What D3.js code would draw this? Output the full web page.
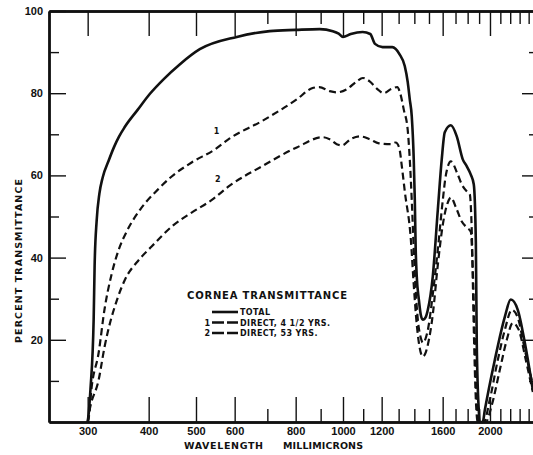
<!DOCTYPE html>
<html lang="en">
<head>
    <meta charset="UTF-8">
    <title>Cornea Transmittance</title>
    <script src="https://cdn.jsdelivr.net/npm/d3@7"></script>
    <style>
        body{
            margin: 0;
            background: #fff;
        }
        svg{
            display: block;
            font-family: "DejaVu Sans", sans-serif;
        }
        .frame path.domain{
            stroke: #111;
            stroke-width: 2.4px;
        }
        .frame line{
            stroke: #111;
            stroke-width: 1.4px;
        }
        .frame text{
            font-size: 11px;
            font-weight: bold;
            fill: #111;
        }
        .total{
            stroke: #111;
            stroke-width: 2.6px;
            fill: none;
        }
        .direct{
            stroke: #111;
            stroke-width: 2.2px;
            stroke-dasharray: 7,4;
            fill: none;
        }
        .lbl{
            font-size: 9.5px;
            font-weight: bold;
            fill: #111;
        }
    </style>
</head>
<body>
<script>
    // wavelength (millimicrons) and percent transmittance
    const totalWl = [300, 301.4, 304, 308.6, 310, 313, 317, 322, 331, 340, 348, 357, 380, 402, 430, 463, 509, 606, 708, 800, 896, 953, 980, 1000, 1037, 1097, 1137, 1163, 1205, 1262, 1305, 1338, 1357, 1370, 1383, 1396, 1403, 1409, 1416, 1430, 1443, 1457, 1478, 1492, 1527, 1564, 1593, 1616, 1663, 1710, 1759, 1793, 1827, 1853, 1871, 1879, 1897, 1906, 1933, 1952, 2046, 2145, 2206, 2280, 2357, 2448];
    const totalT  = [0, 2, 8, 25, 38, 49, 55.5, 59.5, 63.5, 67, 69.5, 71.7, 76, 79.8, 83.5, 87, 90.7, 93.7, 95.1, 95.4, 95.6, 95.1, 94.5, 93.7, 94.4, 94.9, 94.4, 92, 91.2, 91.2, 89.5, 86.6, 82.7, 78.5, 74.4, 63.9, 54, 42, 35.4, 29.8, 26.1, 24.9, 25.6, 27.3, 35.4, 51.7, 63.9, 70.5, 72.2, 69.5, 63.9, 62.2, 60.2, 57.8, 43.7, 19.3, 2.9, 0, 0, 2.9, 15.1, 25.6, 29.8, 27.3, 19.3, 7.8];

    const direct1Wl = [300, 301, 305.7, 315.9, 324.9, 335.9, 346.3, 362.2, 384.3, 418, 446.5, 490.7, 546.2, 586, 682, 804, 864, 894, 939, 971, 1019, 1068, 1098, 1134, 1176, 1212, 1255, 1292, 1308, 1332, 1357, 1370, 1383, 1396, 1409, 1423, 1443, 1457, 1478, 1492, 1527, 1564, 1601, 1624, 1663, 1718, 1751, 1793, 1818, 1835, 1853, 1871, 1888, 1943, 1998, 2075, 2145, 2217, 2280, 2357, 2448];
    const direct1T  = [0, 0.5, 8.5, 16.8, 27.5, 36, 41.5, 46.8, 51.7, 56.6, 59.8, 63.2, 66.3, 69, 73.2, 78.5, 81.2, 81.5, 80.5, 80.2, 81, 82.9, 83.7, 82.9, 81, 80, 81, 81.5, 80.2, 76, 71, 64, 54, 42, 32, 25, 20.5, 19.3, 20.5, 22.4, 31, 42, 54, 60, 63.4, 60.2, 57.8, 56.1, 55.4, 46.8, 22.4, 5.4, 0, 0, 5.4, 15.1, 22.4, 27.3, 25.4, 17.6, 9];

    const direct2Wl = [300, 302.8, 315.9, 324.9, 346.3, 357.6, 382.3, 405.6, 446.5, 490.7, 539.7, 586, 682, 804, 909, 939, 971, 996, 1036, 1085, 1134, 1185, 1255, 1282, 1303, 1322, 1339, 1377, 1396, 1416, 1436, 1457, 1478, 1492, 1527, 1564, 1601, 1639, 1663, 1710, 1751, 1793, 1827, 1844, 1862, 1879, 1897, 1961, 2017, 2095, 2165, 2227, 2291, 2368, 2448];
    const direct2T  = [0, 2.9, 10.2, 18.3, 30.5, 34.6, 39.5, 42.7, 47.6, 51, 54.1, 57.5, 62.2, 66.8, 69.3, 68.8, 67.6, 67.3, 68.8, 69.5, 68.8, 67.8, 67.6, 68, 66.8, 61.5, 55.9, 44.4, 33.4, 23.7, 18, 15.9, 17, 18.8, 26.1, 38.3, 48, 53.4, 54.6, 51.7, 48.8, 47.3, 46.3, 37, 20, 5.4, 0, 0, 4.1, 12.7, 20, 24.1, 22.4, 15.1, 7.3];

    // tick values
    const xMajor = [300, 400, 500, 600, 800, 1000, 1200, 1600, 2000];
    const xMinor = [700, 900, 1100, 1300, 1400, 1500, 1700, 1800, 1900, 2100, 2200, 2300, 2400];
    const yMajor = [20, 40, 60, 80, 100];
    const yMinor = [10, 30, 50, 70, 90];

    // curve number labels: [wavelength, percent, text]
    const curveLabels = [[551, 70, "1"], [554, 58.5, "2"]];

    const width = 533, height = 455;
    const margins = {top: 11, bottom: 33, left: 49, right: -6};

    let svg = d3.select("body").append("svg")
        .attr("width", width)
        .attr("height", height);

    let xScale = d3.scaleLog()
        .domain([250, 2520])
        .range([margins.left, width - margins.right]);
    let yScale = d3.scaleLinear()
        .domain([0, 100])
        .range([height - margins.bottom, margins.top]);

    // frame + ticks
    const fmt = d3.format("d");
    svg.append("g").attr("class", "frame")
        .attr("transform", `translate(0,${height - margins.bottom})`)
        .call(d3.axisBottom(xScale).tickValues(xMajor).tickFormat(fmt).tickSize(-25).tickSizeOuter(0).tickPadding(5));
    svg.append("g").attr("class", "frame")
        .attr("transform", `translate(0,${height - margins.bottom})`)
        .call(d3.axisBottom(xScale).tickValues(xMinor).tickFormat("").tickSize(-13).tickSizeOuter(0));
    svg.append("g").attr("class", "frame")
        .attr("transform", `translate(0,${margins.top})`)
        .call(d3.axisTop(xScale).tickValues(xMajor).tickFormat("").tickSize(-25).tickSizeOuter(0));
    svg.append("g").attr("class", "frame")
        .attr("transform", `translate(0,${margins.top})`)
        .call(d3.axisTop(xScale).tickValues(xMinor).tickFormat("").tickSize(-13).tickSizeOuter(0));

    svg.append("g").attr("class", "frame")
        .attr("transform", `translate(${margins.left},0)`)
        .call(d3.axisLeft(yScale).tickValues(yMajor).tickFormat(fmt).tickSize(-17).tickSizeOuter(0).tickPadding(6));
    svg.append("g").attr("class", "frame")
        .attr("transform", `translate(${margins.left},0)`)
        .call(d3.axisLeft(yScale).tickValues(yMinor).tickFormat("").tickSize(-10).tickSizeOuter(0));
    svg.append("g").attr("class", "frame")
        .attr("transform", `translate(${width - margins.right},0)`)
        .call(d3.axisRight(yScale).tickValues(yMajor).tickFormat("").tickSize(-17).tickSizeOuter(0));
    svg.append("g").attr("class", "frame")
        .attr("transform", `translate(${width - margins.right},0)`)
        .call(d3.axisRight(yScale).tickValues(yMinor).tickFormat("").tickSize(-10).tickSizeOuter(0));

    // curves
    let line = d3.line()
        .x(d => xScale(d[0]))
        .y(d => yScale(d[1]))
        .curve(d3.curveMonotoneX);

    svg.append("path").datum(d3.zip(direct2Wl, direct2T)).attr("class", "direct").attr("d", line);
    svg.append("path").datum(d3.zip(direct1Wl, direct1T)).attr("class", "direct").attr("d", line);
    svg.append("path").datum(d3.zip(totalWl, totalT)).attr("class", "total").attr("d", line);

    svg.selectAll(".clabel")
        .data(curveLabels)
        .enter()
        .append("text")
        .attr("class", "lbl")
        .attr("x", d => xScale(d[0]))
        .attr("y", d => yScale(d[1]))
        .attr("text-anchor", "middle")
        .style("font-size", "8px")
        .text(d => d[2]);

    // axis titles
    svg.append("text")
        .attr("class", "lbl")
        .attr("transform", "translate(22,261) rotate(-90)")
        .attr("text-anchor", "middle")
        .attr("textLength", 164)
        .attr("lengthAdjust", "spacing")
        .text("PERCENT TRANSMITTANCE");
    svg.append("text")
        .attr("class", "lbl")
        .attr("x", 184).attr("y", 449)
        .attr("textLength", 79)
        .attr("lengthAdjust", "spacing")
        .text("WAVELENGTH");
    svg.append("text")
        .attr("class", "lbl")
        .attr("x", 283).attr("y", 449)
        .attr("textLength", 80)
        .attr("lengthAdjust", "spacing")
        .text("MILLIMICRONS");

    // legend
    svg.append("text")
        .attr("class", "lbl")
        .attr("x", 187).attr("y", 299)
        .attr("textLength", 160)
        .attr("lengthAdjust", "spacing")
        .style("font-size", "10px")
        .text("CORNEA TRANSMITTANCE");

    const legend = svg.append("g")
        .selectAll()
        .data([{num: "", name: "TOTAL", dash: null},
               {num: "1", name: "DIRECT, 4 1/2 YRS.", dash: "12,3"},
               {num: "2", name: "DIRECT, 53 YRS.", dash: "12,3"}])
        .enter()
        .append("g")
        .attr("transform", (d, i) => `translate(0,${312 + i * 10.5})`);

    legend.append("line")
        .attr("x1", 212).attr("x2", 238)
        .attr("stroke", "#111")
        .attr("stroke-width", 2.6)
        .attr("stroke-dasharray", d => d.dash);
    legend.append("text")
        .attr("class", "lbl")
        .attr("x", 210).attr("y", 3)
        .attr("text-anchor", "end")
        .style("font-size", "8px")
        .text(d => d.num);
    legend.append("text")
        .attr("class", "lbl")
        .attr("x", 240).attr("y", 3.2)
        .style("font-size", "8px")
        .style("letter-spacing", "0.4px")
        .text(d => d.name);
</script>
</body>
</html>
